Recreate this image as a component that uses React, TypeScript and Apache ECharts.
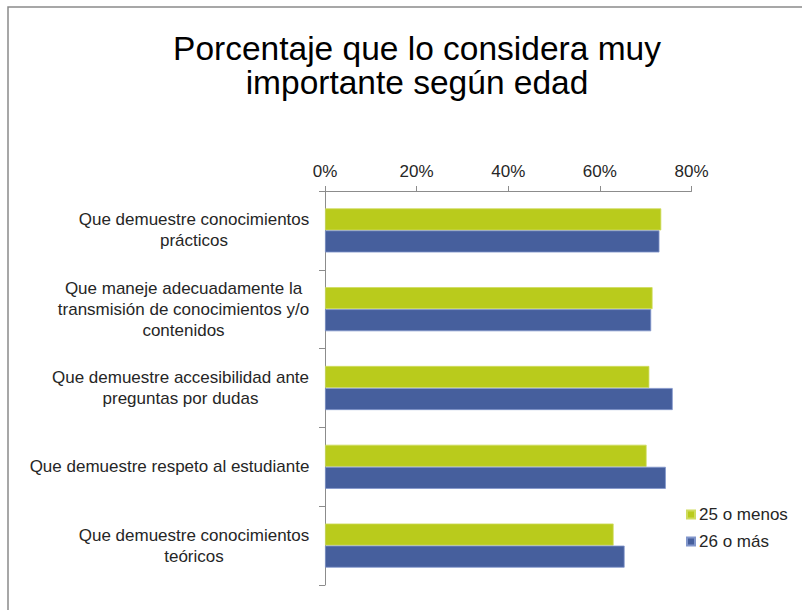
import React, { useEffect, useRef } from "react";
import * as echarts from "echarts";

const categories = [
  "Que demuestre conocimientos\nprácticos",
  "Que maneje adecuadamente la\ntransmisión de conocimientos y/o\ncontenidos",
  "Que demuestre accesibilidad ante\npreguntas por dudas",
  "Que demuestre respeto al estudiante",
  "Que demuestre conocimientos\nteóricos",
];
const seriesNames = ["25 o menos", "26 o más"];
const young = [73.4, 71.5, 70.8, 70.2, 63.0];
const older = [73.0, 71.2, 75.9, 74.4, 65.4];
const xTicks = { min: 0, max: 80, interval: 20 };
const titleText = "Porcentaje que lo considera muy\nimportante según edad";

const LABEL_FONT = '17px "Liberation Sans", Arial, sans-serif';

export default function App() {
  const ref = useRef<HTMLDivElement>(null);
  useEffect(() => {
    if (!ref.current) return;
    const chart = echarts.init(ref.current, undefined, { renderer: "svg" });
    const ctx = document.createElement("canvas").getContext("2d")!;
    ctx.font = LABEL_FONT;
    const rich: Record<string, any> = {};
    categories.forEach((c, i) => {
      const w = Math.max(...c.split("\n").map((l) => ctx.measureText(l).width));
      rich["c" + i] = {
        width: Math.ceil(w) + 1,
        align: "center",
        fontSize: 17,
        lineHeight: 21,
        fontFamily: '"Liberation Sans", Arial, sans-serif',
        color: "#262626",
      };
    });
    chart.setOption({
      animation: false,
      backgroundColor: "#ffffff",
      title: {
        text: titleText,
        left: 412,
        top: 27,
        textAlign: "center",
        textStyle: {
          fontFamily: '"Liberation Sans", Arial, sans-serif',
          fontSize: 33.5,
          lineHeight: 33.5,
          fontWeight: "normal",
          color: "#000000",
        },
      },
      graphic: [
        {
          type: "rect",
          shape: { x: 8, y: 7, width: 900, height: 700 },
          style: { fill: "none", stroke: "#8a8a8a", lineWidth: 1.5 },
          silent: true,
        },
      ],
      legend: {
        orient: "vertical",
        left: 681,
        top: 501,
        itemWidth: 8,
        itemHeight: 8,
        itemGap: 10,
        icon: "rect",
        data: seriesNames,
        textStyle: {
          fontFamily: '"Liberation Sans", Arial, sans-serif',
          fontSize: 17,
          color: "#262626",
          padding: [0, 0, 0, -1],
        },
      },
      grid: { left: 325, top: 191, right: 110.5, bottom: 25, containLabel: false },
      xAxis: {
        type: "value",
        position: "top",
        min: xTicks.min,
        max: xTicks.max,
        interval: xTicks.interval,
        axisLine: { show: true, lineStyle: { color: "#8c8c8c", width: 1 } },
        axisTick: { show: true, length: 5, lineStyle: { color: "#8c8c8c" } },
        splitLine: { show: false },
        axisLabel: {
          formatter: "{value}%",
          fontSize: 17,
          fontFamily: '"Liberation Sans", Arial, sans-serif',
          color: "#262626",
          margin: 11,
        },
      },
      yAxis: {
        type: "category",
        inverse: true,
        data: categories,
        axisLine: { show: true, lineStyle: { color: "#8c8c8c", width: 1 } },
        axisTick: { show: true, length: 6, lineStyle: { color: "#8c8c8c" } },
        axisLabel: {
          margin: 15,
          align: "right",
          formatter: (v: string, i: number) =>
            v
              .split("\n")
              .map((l) => `{c${i}|${l}}`)
              .join("\n"),
          rich,
        },
      },
      series: [
        {
          name: seriesNames[0],
          type: "bar",
          data: young,
          barGap: "0%",
          barCategoryGap: "44%",
          itemStyle: { color: "#b9cb1c", borderColor: "#cfdc5e", borderWidth: 0.8 },
        },
        {
          name: seriesNames[1],
          type: "bar",
          data: older,
          barGap: "0%",
          barCategoryGap: "44%",
          itemStyle: { color: "#465f9d", borderColor: "#8196cb", borderWidth: 0.8 },
        },
      ],
    });
    return () => chart.dispose();
  }, []);
  return (
    <div
      ref={ref}
      style={{ position: "absolute", left: 0, top: 0, width: 802, height: 610 }}
    />
  );
}
